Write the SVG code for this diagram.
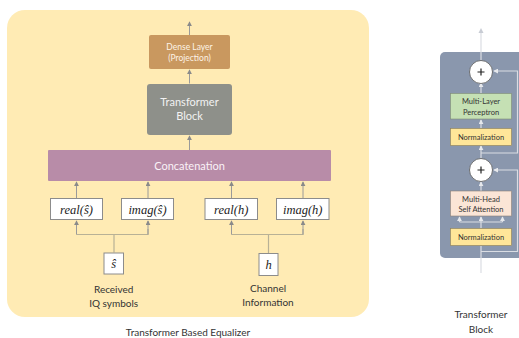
<svg xmlns="http://www.w3.org/2000/svg" width="519" height="338" viewBox="0 0 519 338">
  <style>
    .lbl { font-family: Lato, "Open Sans", sans-serif; text-anchor: middle; }
    .math { font-family: "Liberation Serif", "DejaVu Serif", serif; font-style: italic; font-size: 12.5px; fill: #222; text-anchor: middle; }
    .wbox { fill: #FFFFFF; stroke: #8C8C8C; stroke-width: 1; }
    .arr { stroke: #9A9A9A; stroke-width: 1; fill: none; marker-end: url(#ah); }
    .fork { stroke: #B8B196; stroke-width: 1.2; fill: none; }
    .warr { stroke: #DADDE3; stroke-width: 1.2; fill: none; marker-end: url(#wh); }
    .wline { stroke: #DADDE3; stroke-width: 1.2; fill: none; }
    .small { font-size: 7.5px; fill: #333; }
  </style>
  <defs>
    <marker id="ah" viewBox="0 0 6 6" refX="5" refY="3" markerWidth="5" markerHeight="5" orient="auto" markerUnits="userSpaceOnUse">
      <path d="M0,0 L6,3 L0,6 Z" fill="#8A8A8A"/>
    </marker>
    <marker id="wh" viewBox="0 0 6 6" refX="5" refY="3" markerWidth="5" markerHeight="5" orient="auto" markerUnits="userSpaceOnUse">
      <path d="M0,0 L6,3 L0,6 Z" fill="#E6E8EC"/>
    </marker>
  </defs>

  <!-- equalizer panel -->
  <rect x="7" y="10" width="362" height="307" rx="18" fill="#FFEBB4"/>

  <!-- connectors -->
  <g id="connectors">
    <line class="arr" x1="189.5" y1="35" x2="189.5" y2="22"/>
    <line class="arr" x1="189.5" y1="83.5" x2="189.5" y2="70"/>
    <line class="arr" x1="189.5" y1="150" x2="189.5" y2="136"/>
    <line class="arr" x1="76.5" y1="198" x2="76.5" y2="182"/>
    <line class="arr" x1="148" y1="198" x2="148" y2="182"/>
    <line class="arr" x1="231.5" y1="198" x2="231.5" y2="182"/>
    <line class="arr" x1="303" y1="198" x2="303" y2="182"/>
    <path class="fork" d="M114,252.5 V234.5 H76.5 M114,234.5 H148 V229"/>
    <line class="arr" x1="76.5" y1="234.5" x2="76.5" y2="221"/>
    <line class="arr" x1="148" y1="234.5" x2="148" y2="221"/>
    <path class="fork" d="M268.5,253 V234.5 H231.5 M268.5,234.5 H303 V229"/>
    <line class="arr" x1="231.5" y1="234.5" x2="231.5" y2="221"/>
    <line class="arr" x1="303" y1="234.5" x2="303" y2="221"/>
  </g>

  <!-- nodes -->
  <g id="dense-layer">
    <rect x="149" y="35" width="81" height="34" rx="2" fill="#C9985F"/>
    <text class="lbl" x="189.5" y="50" font-size="8.5" fill="#FDF3E6">Dense Layer</text>
    <text class="lbl" x="189.5" y="61" font-size="8.5" fill="#FDF3E6">(Projection)</text>
  </g>
  <g id="transformer-block">
    <rect x="147" y="84" width="85" height="51" rx="3" fill="#8E908A"/>
    <text class="lbl" x="189.5" y="106" font-size="11" fill="#F2F2F2">Transformer</text>
    <text class="lbl" x="189.5" y="120" font-size="11" fill="#F2F2F2">Block</text>
  </g>
  <g id="concatenation">
    <rect x="48" y="150" width="283" height="31" rx="1" fill="#B88CA8"/>
    <text class="lbl" x="189.5" y="170" font-size="11" fill="#FAF2F7">Concatenation</text>
  </g>
  <g id="real-s">
    <rect class="wbox" x="50.5" y="198.5" width="52" height="21"/>
    <text class="math" x="76.5" y="213.5">real(ŝ)</text>
  </g>
  <g id="imag-s">
    <rect class="wbox" x="121.5" y="198.5" width="52" height="21"/>
    <text class="math" x="147.5" y="213.5">imag(ŝ)</text>
  </g>
  <g id="real-h">
    <rect class="wbox" x="205" y="198.5" width="52.5" height="21"/>
    <text class="math" x="231.2" y="213.5">real(h)</text>
  </g>
  <g id="imag-h">
    <rect class="wbox" x="276.5" y="198.5" width="52.5" height="21"/>
    <text class="math" x="302.7" y="213.5">imag(h)</text>
  </g>
  <g id="s-hat">
    <rect class="wbox" x="104" y="253" width="19.5" height="21"/>
    <text class="math" x="113.7" y="267.5">ŝ</text>
    <text class="lbl" x="113.7" y="293" font-size="10" fill="#333">Received</text>
    <text class="lbl" x="113.7" y="307" font-size="10" fill="#333">IQ symbols</text>
  </g>
  <g id="h">
    <rect class="wbox" x="259" y="253.5" width="19" height="22"/>
    <text class="math" x="268.5" y="268.5">h</text>
    <text class="lbl" x="268" y="292" font-size="10" fill="#333">Channel</text>
    <text class="lbl" x="268" y="306" font-size="10" fill="#333">Information</text>
  </g>
  <text class="lbl" x="188" y="336" font-size="10" fill="#333">Transformer Based Equalizer</text>

  <!-- transformer block detail -->
  <g id="block-panel">
    <rect x="440" y="52" width="90" height="206" rx="5" fill="#8A97AD"/>
  </g>
  <g id="block-connectors">
    <line class="wline" x1="481" y1="273" x2="481" y2="246"/>
    <line class="wline" x1="481" y1="30" x2="481" y2="60"/>
    <path d="M478.5,33 L481,28 L483.5,33 Z" fill="#C8CCD4"/>
    <path class="warr" d="M481,251.5 H517.5 V170 H494"/>
    <path class="warr" d="M481,153 H517.5 V71 H494"/>
    <line class="warr" x1="481" y1="228" x2="481" y2="217"/>
    <path class="wline" d="M459.5,222 H502.5"/>
    <line class="warr" x1="459.5" y1="222" x2="459.5" y2="217"/>
    <line class="warr" x1="502.5" y1="222" x2="502.5" y2="217"/>
    <line class="warr" x1="481" y1="191" x2="481" y2="182"/>
    <line class="warr" x1="481" y1="158" x2="481" y2="146"/>
    <line class="warr" x1="481" y1="128" x2="481" y2="120"/>
    <line class="warr" x1="481" y1="93" x2="481" y2="83"/>
  </g>
  <g id="add-top">
    <circle cx="481" cy="72" r="11.5" fill="#FFFFFF" stroke="#555" stroke-width="0.8"/>
    <path d="M477.5,72 H484.5 M481,68.5 V75.5" stroke="#222" stroke-width="1.2"/>
  </g>
  <g id="mlp">
    <rect x="450.5" y="93.5" width="61" height="25.5" fill="#C5E0B4" stroke="#7F8C75" stroke-width="0.6"/>
    <text class="lbl small" x="481" y="104">Multi-Layer</text>
    <text class="lbl small" x="481" y="114.5">Perceptron</text>
  </g>
  <g id="norm-top">
    <rect x="450.5" y="128.5" width="61" height="17" fill="#FFE699" stroke="#8C7F55" stroke-width="0.6"/>
    <text class="lbl small" x="481" y="139.5">Normalization</text>
  </g>
  <g id="add-bottom">
    <circle cx="481" cy="170" r="11.5" fill="#FFFFFF" stroke="#555" stroke-width="0.8"/>
    <path d="M477.5,170 H484.5 M481,166.5 V173.5" stroke="#222" stroke-width="1.2"/>
  </g>
  <g id="mhsa">
    <rect x="450.5" y="191" width="61" height="25" fill="#FBE5D6" stroke="#8C8078" stroke-width="0.6"/>
    <text class="lbl small" x="481" y="201.5">Multi-Head</text>
    <text class="lbl small" x="481" y="212">Self Attention</text>
  </g>
  <g id="norm-bottom">
    <rect x="450.5" y="228.5" width="61" height="17" fill="#FFE699" stroke="#8C7F55" stroke-width="0.6"/>
    <text class="lbl small" x="481" y="239.5">Normalization</text>
  </g>
  <text class="lbl" x="481" y="318" font-size="10" fill="#333">Transformer</text>
  <text class="lbl" x="481" y="333" font-size="10" fill="#333">Block</text>
</svg>
